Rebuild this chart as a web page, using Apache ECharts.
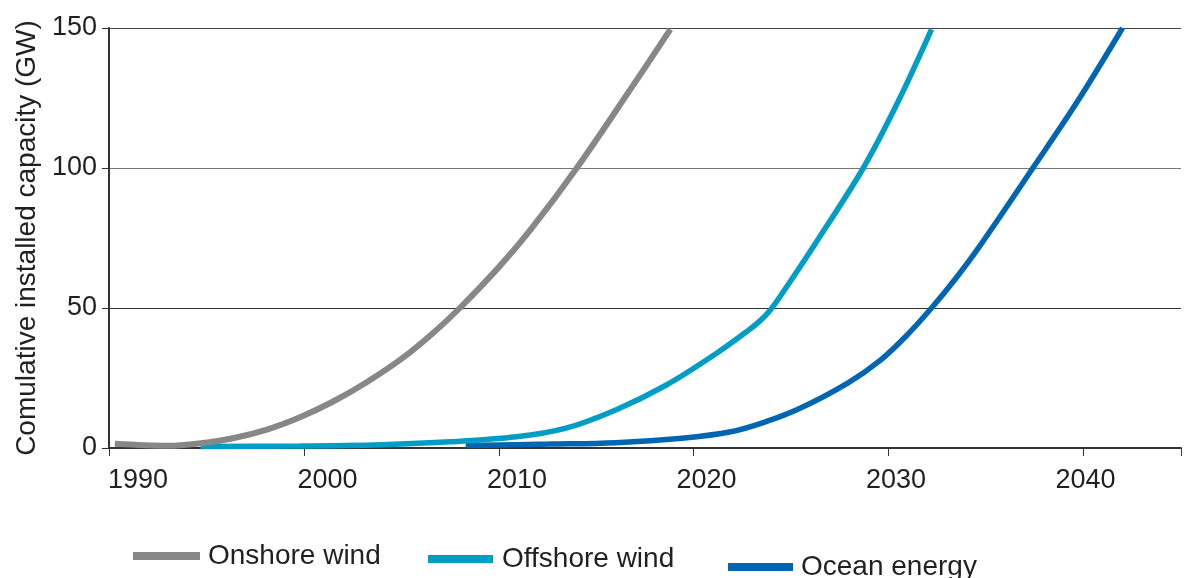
<!DOCTYPE html>
<html>
<head>
<meta charset="utf-8">
<script src="https://cdn.jsdelivr.net/npm/echarts@6/dist/echarts.min.js"></script>
<style>
  html, body { margin: 0; padding: 0; background: #fff; }
  #chart { width: 1184px; height: 578px; }
</style>
</head>
<body>
<div id="chart"></div>
<script>
// ---- data ----
const seriesNames = ['Onshore wind', 'Offshore wind', 'Ocean energy'];

const onshoreYears  = [1990.3, 1993.0, 1994.7, 1996.3, 1998.1, 1999.8, 2001.5, 2003.2, 2005.0, 2006.6, 2008.0, 2010.0, 2011.7, 2014.0, 2016.8, 2018.8];
const onshoreValues = [1.5, 0.8, 1.7, 3.4, 6.6, 11.0, 16.6, 23.4, 31.8, 40.9, 50, 64.6, 78.6, 100, 128.6, 149.5];

const offshoreYears  = [1994.7, 1999.8, 2004.0, 2007.5, 2010.9, 2013.4, 2016.0, 2018.6, 2021.1, 2022.8, 2023.4, 2023.9, 2024.5, 2026.2, 2028.7, 2030.5, 2032.2];
const offshoreValues = [0.5, 0.7, 1.2, 2.2, 4.0, 7.0, 13.6, 22.5, 33.5, 42.0, 45.4, 49.0, 54.8, 72.6, 100, 123.9, 149.5];

const oceanYears  = [2008.3, 2012.6, 2016.0, 2019.4, 2021.9, 2023.7, 2025.4, 2027.9, 2029.6, 2030.9, 2032.2, 2033.4, 2034.6, 2037.4, 2039.7, 2042.0];
const oceanValues = [0.9, 1.4, 1.9, 3.5, 5.8, 9.4, 14.0, 23.2, 31.5, 40.0, 50, 60.2, 71.4, 100, 123.9, 150];

const xTickYears = [1990, 2000, 2010, 2020, 2030, 2040];
const yTicks = [0, 50, 100, 150];
const yAxisTitle = 'Comulative installed capacity (GW)';

// ---- chart ----
const zip = (xs, ys) => xs.map((x, i) => [x, ys[i]]);
const FONT = '"Liberation Sans", Arial, sans-serif';
const TXT = '#231f20';

// label shifts (the reference draws year labels slightly right of their ticks)
const rich = {};
xTickYears.forEach((y, k) => {
  const shift = 29 - 5.4 * k;
  rich['a' + k] = { fontSize: 27, fontFamily: FONT, color: TXT, padding: [0, 0, 0, 2 * shift] };
});

const chart = echarts.init(document.getElementById('chart'), null, { renderer: 'canvas' });
chart.setOption({
  animation: false,
  backgroundColor: '#ffffff',
  grid: { left: 109, right: 0, top: 28, bottom: 130, containLabel: false },
  xAxis: {
    type: 'value',
    min: xTickYears[0],
    max: 2045,
    interval: 10,
    axisLine: { show: true, lineStyle: { color: '#333', width: 2 } },
    axisTick: { show: true, length: 8, lineStyle: { color: '#333', width: 1 } },
    splitLine: { show: false },
    axisLabel: {
      margin: 19,
      fontSize: 27,
      fontFamily: FONT,
      color: TXT,
      rich: rich,
      formatter: (v) => {
        const k = xTickYears.indexOf(v);
        return k < 0 ? '' : '{a' + k + '|' + v + '}';
      }
    }
  },
  yAxis: {
    type: 'value',
    min: yTicks[0],
    max: yTicks[yTicks.length - 1],
    interval: 50,
    name: yAxisTitle,
    nameLocation: 'middle',
    nameGap: 66,
    nameTextStyle: { fontSize: 28, fontFamily: FONT, color: TXT },
    axisLine: { show: true, lineStyle: { color: '#333', width: 2 } },
    axisTick: { show: true, length: 7, lineStyle: { color: '#333', width: 1 } },
    splitLine: { show: true, lineStyle: { color: ['#444', '#333', '#777', '#444'], width: 1.2 } },
    axisLabel: { margin: 12, fontSize: 27, fontFamily: FONT, color: TXT }
  },
  legend: [
    {
      data: [seriesNames[0]], left: 128, top: 537, icon: 'rect', itemWidth: 67, itemHeight: 8,
      textStyle: { fontSize: 28, fontFamily: FONT, color: TXT, padding: [0, 0, 0, 3] }
    },
    {
      data: [seriesNames[1]], left: 423, top: 540, icon: 'rect', itemWidth: 65, itemHeight: 8,
      textStyle: { fontSize: 28, fontFamily: FONT, color: TXT, padding: [0, 0, 0, 4] }
    },
    {
      data: [seriesNames[2]], left: 723, top: 548, icon: 'rect', itemWidth: 65, itemHeight: 8,
      textStyle: { fontSize: 28, fontFamily: FONT, color: TXT, padding: [0, 0, 0, 3] }
    }
  ],
  series: [
    {
      name: seriesNames[2], type: 'line', data: zip(oceanYears, oceanValues),
      smooth: 0.35, showSymbol: false, color: '#0066b3',
      lineStyle: { width: 5.5, color: '#0066b3' }
    },
    {
      name: seriesNames[1], type: 'line', data: zip(offshoreYears, offshoreValues),
      smooth: 0.35, showSymbol: false, color: '#009ec6',
      lineStyle: { width: 5.5, color: '#009ec6' }
    },
    {
      name: seriesNames[0], type: 'line', data: zip(onshoreYears, onshoreValues),
      smooth: 0.35, showSymbol: false, color: '#878787',
      lineStyle: { width: 6, color: '#878787' }
    }
  ]
});
</script>
</body>
</html>
